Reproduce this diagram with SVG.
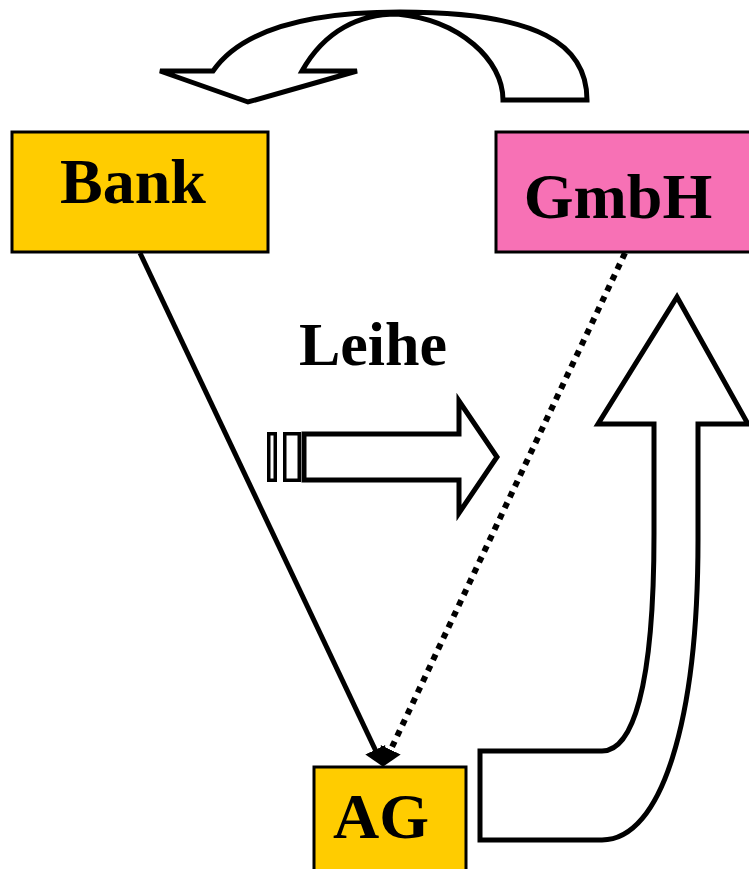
<svg xmlns="http://www.w3.org/2000/svg" width="749" height="869" viewBox="0 0 749 869">
  <style>
    .box { stroke: #000; stroke-width: 3; }
    .label { font-family: "Liberation Serif", "Times New Roman", serif; font-weight: bold; font-size: 64px; text-anchor: middle; fill: #000; }
    .block { fill: #fff; stroke: #000; stroke-width: 5; stroke-linejoin: miter; }
    .thin { stroke-width: 3.5; }
    .link { fill: none; stroke: #000; stroke-width: 5; }
    .dotted { stroke-dasharray: 6 6; stroke-width: 6; }
  </style>
  <defs>
    <marker id="head" markerUnits="userSpaceOnUse" markerWidth="22" markerHeight="26" viewBox="0 -13 22 26" refX="8" refY="0" orient="auto">
      <path d="M0,-11 L19,0 L0,11 Z" fill="#000"/>
    </marker>
  </defs>

  <rect width="749" height="869" fill="#fff"/>

  <!-- curved return arrow over the top -->
  <g id="return-arrow">
    <path class="block" d="M503,100 L587,100 C587,45 540,12 400,12 C320,12 245,25 213,71 L160,71 L248,102 L357,71 L302,71 C325,30 360,14 397,14 C460,20 503,60 503,100 Z"/>
  </g>

  <!-- Leihe block arrow -->
  <g id="leihe-arrow">
    <rect class="block thin" x="268.75" y="433.75" width="6.5" height="46.5"/>
    <rect class="block thin" x="284.75" y="433.75" width="14.5" height="46.5"/>
    <path class="block" d="M304,434 L459,434 L459,401 L497,457 L459,513 L459,480 L304,480 Z"/>
  </g>
  <g id="leihe-label">
    <text class="label" x="373" y="365" style="font-size:62px">Leihe</text>
  </g>

  <!-- bent arrow from AG up to GmbH -->
  <g id="up-arrow">
    <path class="block" d="M654,424 L654,534 C654,690 632,751 602,751 L480,751 L480,840 L602,840 C662,840 698,720 698,540 L698,424 L748,424 L677,297 L598,424 Z"/>
  </g>

  <!-- connectors -->
  <g id="connectors">
    <line class="link" x1="140" y1="253" x2="378.7" y2="757" marker-end="url(#head)"/>
    <line class="link dotted" x1="625" y1="253" x2="387.3" y2="757" marker-end="url(#head)"/>
  </g>

  <g id="bank">
    <rect class="box" x="12" y="132" width="256" height="120" fill="#FFCC00"/>
    <text class="label" x="133" y="203">Bank</text>
  </g>

  <g id="gmbh">
    <rect class="box" x="496" y="132" width="270" height="120" fill="#F771B5"/>
    <text class="label" x="618" y="218">GmbH</text>
  </g>

  <g id="ag">
    <rect class="box" x="314" y="767" width="152" height="120" fill="#FFCC00"/>
    <text class="label" x="381" y="838">AG</text>
  </g>
</svg>
